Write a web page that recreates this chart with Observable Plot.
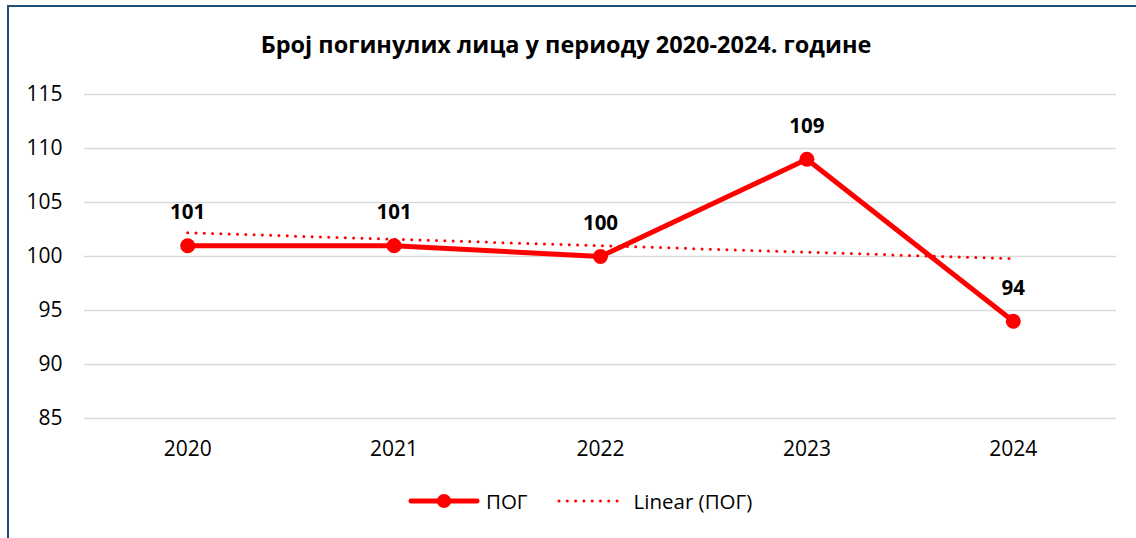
<!DOCTYPE html>
<html>
<head>
<meta charset="utf-8">
<script src="https://cdn.jsdelivr.net/npm/d3@7"></script>
<script src="https://cdn.jsdelivr.net/npm/@observablehq/plot@0.6"></script>
<style>
  html, body { margin: 0; padding: 0; background: #fff; }
  body { font-family: "Open Sans", sans-serif; }
  #frame { position: relative; width: 1136px; height: 538px; overflow: hidden; }
  #bl { position: absolute; left: 7px; top: 5px; width: 2px; height: 540px; background: #1f4e79; }
  #bt { position: absolute; left: 7px; top: 5px; width: 1140px; height: 2px; background: #1f4e79; }
  #title { position: absolute; left: 0; top: 27px; width: 1132px; text-align: center;
           font-size: 23.5px; font-weight: bold; color: #000; line-height: 34px; }
  #chart { position: absolute; left: 0; top: 70px; }
  #legend { position: absolute; left: 408px; top: 487px; display: flex; align-items: center;
            font-size: 20.5px; color: #000; }
  #legend .item { display: flex; align-items: center; }
  #legend svg { display: block; }
</style>
</head>
<body>
<div id="frame">
  <div id="bl"></div>
  <div id="bt"></div>
  <div id="title"></div>
  <div id="chart"></div>
  <div id="legend"></div>
</div>
<script>
const titleText = "Број погинулих лица у периоду 2020-2024. године";
const years = [2020, 2021, 2022, 2023, 2024];
const values = [101, 101, 100, 109, 94];
const yTicks = [85, 90, 95, 100, 105, 110, 115];
const seriesName = "ПОГ";
const trendName = "Linear (ПОГ)";

const data = years.map((y, i) => ({year: y, value: values[i]}));
const red = "#ff0000";

document.getElementById("title").textContent = titleText;

const chart = Plot.plot({
  width: 1136,
  height: 398,
  marginLeft: 84,
  marginRight: 20,
  marginTop: 24,
  marginBottom: 50,
  style: {fontFamily: "'Open Sans', sans-serif", fontSize: "21px", color: "#000", background: "transparent"},
  x: {type: "linear", domain: [2019.5, 2024.5], ticks: years, tickFormat: d => String(d), label: null},
  y: {domain: [85, 115], ticks: yTicks, label: null},
  marks: [
    Plot.gridY(yTicks, {stroke: "#d9d9d9", strokeOpacity: 1, strokeWidth: 1.6}),
    Plot.axisY({ticks: yTicks, tickSize: 0, tickPadding: 22, fontSize: 21, label: null}),
    Plot.axisX({ticks: years, tickFormat: d => String(d), tickSize: 0, tickPadding: 23, fontSize: 21, label: null}),
    Plot.line(data, {x: "year", y: "value", stroke: red, strokeWidth: 5, strokeLinejoin: "round"}),
    Plot.dot(data, {x: "year", y: "value", r: 7.5, fill: red, stroke: "none"}),
    Plot.linearRegressionY(data, {x: "year", y: "value", ci: 0, stroke: red, strokeWidth: 3,
      strokeDasharray: "0,8.3", strokeLinecap: "round"}),
    Plot.text(data, {x: "year", y: "value", text: d => String(d.value), dy: -33, fontSize: 20.5,
      fontWeight: "bold", fill: "#000"})
  ]
});
document.getElementById("chart").appendChild(chart);

// legend
const legend = document.getElementById("legend");
function item(swatchSvg, label, gapAfter) {
  const d = document.createElement("div");
  d.className = "item";
  d.style.marginRight = gapAfter + "px";
  d.innerHTML = swatchSvg + `<span style="margin-left:6px">${label}</span>`;
  legend.appendChild(d);
}
item(`<svg width="72" height="20"><line x1="3" y1="10" x2="69" y2="10" stroke="${red}" stroke-width="5" stroke-linecap="round"/><circle cx="36" cy="10" r="7" fill="${red}"/></svg>`, seriesName, 28);
item(`<svg width="72" height="20"><line x1="3" y1="10" x2="69" y2="10" stroke="${red}" stroke-width="3" stroke-dasharray="0,8.3" stroke-linecap="round"/></svg>`, trendName, 0);
</script>
</body>
</html>
